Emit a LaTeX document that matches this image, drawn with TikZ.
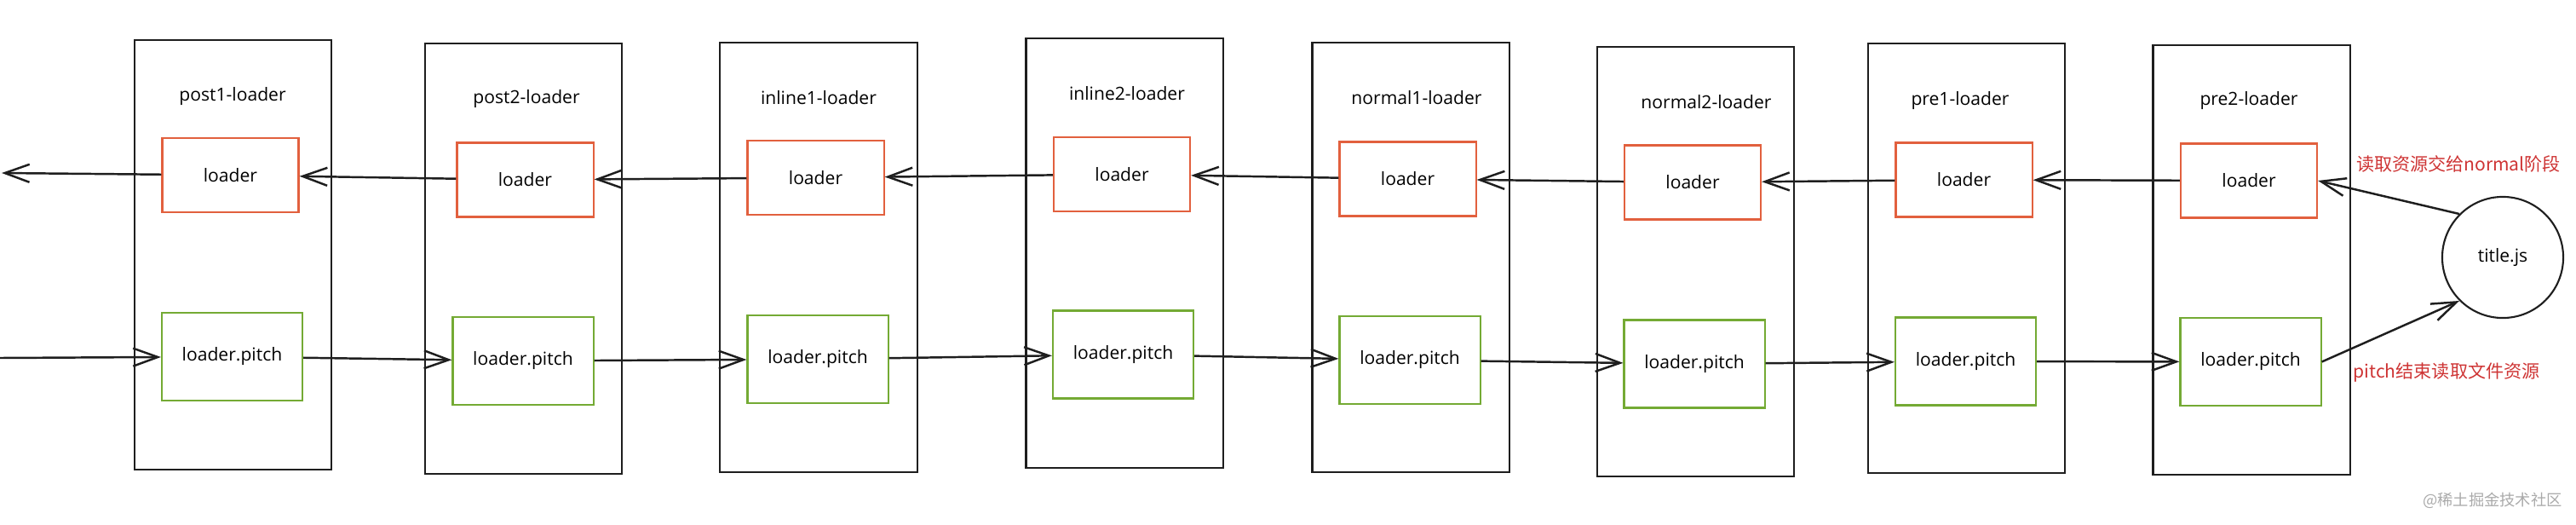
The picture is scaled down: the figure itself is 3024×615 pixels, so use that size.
\documentclass[tikz,border=0pt]{standalone}
\usepackage{fontspec}
\setmainfont{Open Sans}
\newfontfamily\cjkfont{Noto Sans CJK SC}
\usetikzlibrary{arrows.meta}
\definecolor{inkgray}{RGB}{30,30,30}
\definecolor{ldred}{RGB}{226,96,62}
\definecolor{ptgreen}{RGB}{116,170,52}
\definecolor{notered}{RGB}{206,52,52}
\definecolor{markgray}{RGB}{170,170,170}
\begin{document}
\begin{tikzpicture}[x=0.01cm, y=-0.01cm, line width=0.6pt,
col box/.style={rectangle,draw=inkgray,minimum width=2.31cm,minimum height=5.04cm,inner sep=0pt},
load box/.style={rectangle,draw=ldred,minimum width=1.6cm,minimum height=0.87cm,inner sep=0pt},
pitch box/.style={rectangle,draw=ptgreen,minimum width=1.65cm,minimum height=1.03cm,inner sep=0pt},
file node/.style={circle,draw=inkgray,minimum size=1.42cm,inner sep=0pt},
note/.style={text=notered,font=\cjkfont\fontsize{6}{7}\selectfont},
flow/.style={draw=inkgray,line width=0.7pt,-{Straight Barb[length=2.9mm,width=2.1mm]}}]%shorten >=1pt,
\useasboundingbox (0,0) rectangle (3024,615);
\begin{scope}[every node/.style={font=\fontsize{6}{7}\selectfont}]
\node[col box] (c1) at (273.5,299) {};
\node[col box] (c2) at (614.5,303.5) {};
\node[col box] (c3) at (961,302) {};
\node[col box] (c4) at (1320,297) {};
\node[col box] (c5) at (1656,302) {};
\node[col box] (c6) at (1990.5,307) {};
\node[col box] (c7) at (2308.5,303) {};
\node[col box] (c8) at (2643,305) {};
\node (t1) at (273,113) {post1-loader};
\node (t2) at (618,116) {post2-loader};
\node (t3) at (961,115) {inline1-loader};
\node (t4) at (1323,110) {inline2-loader};
\node (t5) at (1663,115) {normal1-loader};
\node (t6) at (2003,120) {normal2-loader};
\node (t7) at (2301,118) {pre1-loader};
\node (t8) at (2640,118) {pre2-loader};
\node[load box] (ld1) at (270.5,205.5) {loader};
\node[load box] (ld2) at (616.5,211) {loader};
\node[load box] (ld3) at (957.5,208.5) {loader};
\node[load box] (ld4) at (1317,204.5) {loader};
\node[load box] (ld5) at (1652.5,210) {loader};
\node[load box] (ld6) at (1987,214) {loader};
\node[load box] (ld7) at (2305.5,211) {loader};
\node[load box] (ld8) at (2640,212) {loader};
\node[pitch box] (pt1) at (272.5,418.5) {loader.pitch};
\node[pitch box] (pt2) at (614,423.5) {loader.pitch};
\node[pitch box] (pt3) at (960,421.5) {loader.pitch};
\node[pitch box] (pt4) at (1318.5,416) {loader.pitch};
\node[pitch box] (pt5) at (1655,422.5) {loader.pitch};
\node[pitch box] (pt6) at (1989,427) {loader.pitch};
\node[pitch box] (pt7) at (2307.5,424) {loader.pitch};
\node[pitch box] (pt8) at (2642,424.5) {loader.pitch};
\node[file node] (file) at (2938,302) {title.js};
\node[note] (readnote) at (2886,192) {读取资源交给normal阶段};
\node[note] (pitchnote) at (2872,437) {pitch结束读取文件资源};
\node[text=markgray,font=\cjkfont\fontsize{5.2}{6}\selectfont] (mark) at (2926,587) {@稀土掘金技术社区};
%\node[load box] (ld) at (,) {loader};
\end{scope}
\coordinate (outL) at (2,203);
\coordinate (inL) at (0,420);
\begin{scope}
\draw (ld1) edge[flow] (outL);
\draw (ld2) edge[flow] (ld1);
\draw (ld3) edge[flow] (ld2);
\draw (ld4) edge[flow] (ld3);
\draw (ld5) edge[flow] (ld4);
\draw (ld6) edge[flow] (ld5);
\draw (ld7) edge[flow] (ld6);
\draw (ld8) edge[flow] (ld7);
\draw (file.135) edge[flow] (ld8.east);
\draw (inL) edge[flow] (pt1);
\draw (pt1) edge[flow] (pt2);
\draw (pt2) edge[flow] (pt3);
\draw (pt3) edge[flow] (pt4);
\draw (pt4) edge[flow] (pt5);
\draw (pt5) edge[flow] (pt6);
\draw (pt6) edge[flow] (pt7);
\draw (pt7) edge[flow] (pt8);
\draw (pt8.east) edge[flow] (file.225);
%\draw (ld) edge[flow] (ld);
\end{scope}
\end{tikzpicture}
\end{document}
